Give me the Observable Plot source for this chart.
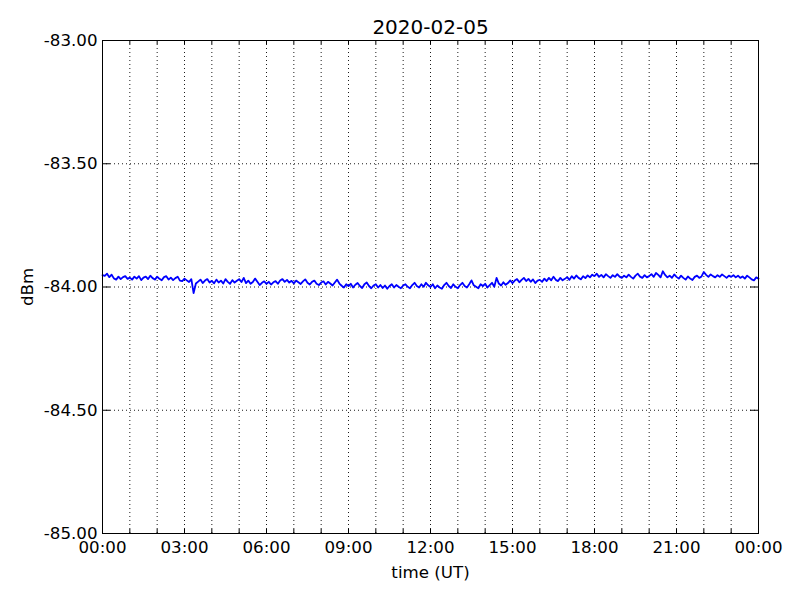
<!DOCTYPE html>
<html>
<head>
<meta charset="utf-8">
<script src="https://cdn.jsdelivr.net/npm/d3@7"></script>
<script src="https://cdn.jsdelivr.net/npm/@observablehq/plot@0.6"></script>
<style>
  html, body { margin: 0; padding: 0; background: #fff; }
</style>
</head>
<body>
<div id="chart"></div>
<script>
const title = "2020-02-05";
const xLabel = "time (UT)";
const yLabel = "dBm";
const stepMinutes = 5;
const xTicks = [0, 3, 6, 9, 12, 15, 18, 21, 24];
const xTickLabels = ["00:00","03:00","06:00","09:00","12:00","15:00","18:00","21:00","00:00"];
const hourTicks = [0,1,2,3,4,5,6,7,8,9,10,11,12,13,14,15,16,17,18,19,20,21,22,23,24];
const gridHours = [1,2,3,4,5,6,7,8,9,10,11,12,13,14,15,16,17,18,19,20,21,22,23];
const yTicks = [-85, -84.5, -84, -83.5, -83];
const yGrid = [-84.5, -84, -83.5];

// signal level, one value every 5 minutes
const values = [
 -83.952,-83.955,-83.946,-83.960,-83.950,-83.965,-83.970,-83.958,-83.968,-83.960,-83.956,-83.967,
 -83.962,-83.970,-83.958,-83.966,-83.956,-83.972,-83.962,-83.958,-83.968,-83.954,-83.964,-83.970,
 -83.958,-83.967,-83.973,-83.960,-83.956,-83.970,-83.962,-83.972,-83.964,-83.958,-83.974,-83.976,
 -83.966,-83.973,-83.980,-83.968,-84.025,-83.986,-83.978,-83.970,-83.984,-83.974,-83.968,-83.982,
 -83.975,-83.985,-83.970,-83.982,-83.974,-83.986,-83.968,-83.979,-83.987,-83.972,-83.982,-83.975,
 -83.968,-83.980,-83.963,-83.984,-83.974,-83.987,-83.980,-83.966,-83.979,-83.992,-83.983,-83.977,
 -83.987,-83.979,-83.990,-83.981,-83.976,-83.987,-83.974,-83.968,-83.979,-83.971,-83.982,-83.975,
 -83.985,-83.974,-83.981,-83.988,-83.977,-83.969,-83.983,-83.990,-83.979,-83.974,-83.987,-83.992,
 -83.982,-83.977,-83.990,-83.979,-83.986,-83.994,-83.982,-83.970,-83.986,-83.995,-84.002,-83.989,
 -83.996,-83.987,-84.002,-83.991,-83.984,-83.996,-84.004,-83.989,-83.982,-83.996,-84.005,-83.994,
 -83.989,-84.002,-83.992,-84.004,-83.994,-84.007,-83.996,-83.989,-84.002,-83.992,-83.999,-84.005,
 -83.994,-83.989,-83.999,-84.005,-83.992,-83.983,-83.996,-84.002,-83.989,-83.999,-83.983,-83.993,
 -84.000,-83.989,-84.005,-83.994,-84.002,-84.007,-83.992,-83.983,-83.996,-84.004,-83.989,-83.999,
 -84.005,-83.992,-83.983,-83.996,-84.002,-83.989,-83.973,-83.993,-83.999,-84.005,-83.989,-83.996,
 -83.987,-84.002,-83.992,-83.983,-83.999,-83.963,-83.986,-83.994,-83.981,-83.991,-83.984,-83.973,
 -83.984,-83.974,-83.968,-83.981,-83.971,-83.963,-83.976,-83.967,-83.979,-83.969,-83.984,-83.974,
 -83.971,-83.979,-83.966,-83.976,-83.963,-83.973,-83.958,-83.971,-83.976,-83.963,-83.973,-83.967,
 -83.960,-83.971,-83.956,-83.966,-83.953,-83.963,-83.969,-83.956,-83.964,-83.953,-83.961,-83.950,
 -83.956,-83.946,-83.959,-83.951,-83.961,-83.948,-83.956,-83.963,-83.952,-83.959,-83.948,-83.958,
 -83.963,-83.954,-83.961,-83.950,-83.959,-83.966,-83.954,-83.946,-83.958,-83.963,-83.952,-83.961,
 -83.956,-83.948,-83.959,-83.943,-83.951,-83.961,-83.936,-83.951,-83.961,-83.954,-83.963,-83.949,
 -83.959,-83.966,-83.954,-83.963,-83.970,-83.957,-83.966,-83.972,-83.959,-83.954,-83.963,-83.957,
 -83.939,-83.951,-83.959,-83.949,-83.956,-83.961,-83.952,-83.959,-83.949,-83.956,-83.963,-83.954,
 -83.959,-83.952,-83.961,-83.954,-83.963,-83.957,-83.966,-83.954,-83.961,-83.969,-83.973,-83.961,
 -83.966
];

const data = values.map((v, i) => ({hour: i * stepMinutes / 60, dbm: v}));

const W = 800, H = 600;
const mL = 102, mR = 42, mT = 40, mB = 67;
const plotW = W - mL - mR, plotH = H - mT - mB;
const fs = 16.67;

const chart = Plot.plot({
  width: W,
  height: H,
  marginLeft: mL,
  marginRight: mR,
  marginTop: mT,
  marginBottom: mB,
  style: {fontFamily: "'DejaVu Sans', sans-serif", fontSize: fs + "px", background: "#fff", color: "#000"},
  x: {domain: [0, 24], axis: null},
  y: {domain: [-85, -83], axis: null},
  marks: [
    Plot.gridX(gridHours, {stroke: "#000", strokeOpacity: 1, strokeWidth: 0.9, strokeDasharray: "1,3"}),
    Plot.gridY(yGrid, {stroke: "#000", strokeOpacity: 1, strokeWidth: 0.9, strokeDasharray: "1,3"}),
    Plot.line(data, {x: "hour", y: "dbm", stroke: "#0000ff", strokeWidth: 1.8}),
    // inward ticks on all four sides
    Plot.tickX(hourTicks, {x: d => d, insetTop: plotH - 4, stroke: "#000", strokeWidth: 1}),
    Plot.tickX(hourTicks, {x: d => d, insetBottom: plotH - 4, stroke: "#000", strokeWidth: 1}),
    Plot.tickY(yTicks, {y: d => d, insetRight: plotW - 8, stroke: "#000", strokeWidth: 1}),
    Plot.tickY(yTicks, {y: d => d, insetLeft: plotW - 8, stroke: "#000", strokeWidth: 1}),
    Plot.frame({stroke: "#000", strokeWidth: 1}),
    Plot.axisX(xTicks, {
      tickSize: 0, tickPadding: 8, fontSize: fs, label: null,
      tickFormat: (d) => xTickLabels[xTicks.indexOf(d)]
    }),
    Plot.axisY(yTicks, {
      tickSize: 0, tickPadding: 5, fontSize: fs, label: null,
      tickFormat: d => d.toFixed(2)
    }),
    Plot.text([title], {frameAnchor: "top", dy: -13, lineAnchor: "middle", fontSize: 20, fill: "#000"}),
    Plot.text([xLabel], {frameAnchor: "bottom", dy: 39, lineAnchor: "middle", fontSize: fs, fill: "#000"}),
    Plot.text([yLabel], {frameAnchor: "left", dx: -75, rotate: -90, lineAnchor: "middle", textAnchor: "middle", fontSize: fs, fill: "#000"})
  ]
});

document.getElementById("chart").appendChild(chart);
</script>
</body>
</html>
